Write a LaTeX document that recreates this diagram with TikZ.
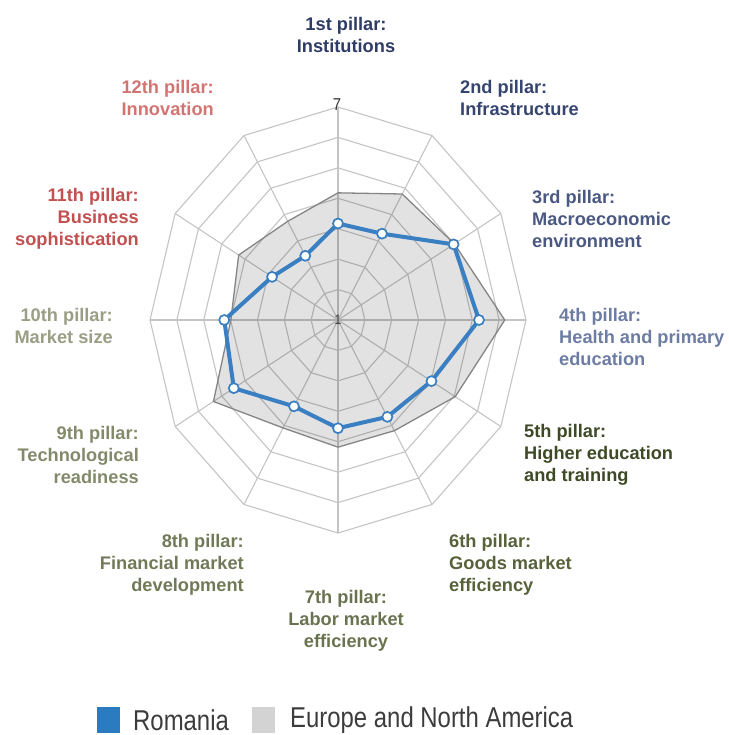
\documentclass[tikz,border=0pt]{standalone}
\usepackage{fontspec}
\setmainfont{Liberation Sans}
\usepackage{graphicx}
\definecolor{roblue}{HTML}{3A7FC1}
\definecolor{legblue}{HTML}{2A7BC0}
\definecolor{leggray}{HTML}{D3D3D3}
\definecolor{legtext}{HTML}{3C3C3C}
\definecolor{pA}{HTML}{2E3C66}
\definecolor{pB}{HTML}{36456F}
\definecolor{pC}{HTML}{4A5882}
\definecolor{pD}{HTML}{6D7CA3}
\definecolor{pE}{HTML}{3E4A26}
\definecolor{pF}{HTML}{57623B}
\definecolor{pG}{HTML}{6A7350}
\definecolor{pH}{HTML}{717A58}
\definecolor{pI}{HTML}{838A6A}
\definecolor{pJ}{HTML}{999E85}
\definecolor{pK}{HTML}{C25050}
\definecolor{pL}{HTML}{D27472}
\begin{document}
\begin{tikzpicture}[x=1bp,y=-1bp,
  gridline/.style={draw=black!23, line width=1.1bp},
  eupoly/.style={draw=black!48, line width=1.3bp, fill=black, fill opacity=0.115},
  roline/.style={draw=roblue, line width=4bp, line join=round},
  romark/.style={circle, draw=roblue, fill=white, line width=1.7bp, inner sep=0pt, minimum size=10bp},
  lab/.style={inner sep=0pt, font=\bfseries\fontsize{18.3}{22.3}\selectfont},
  legtxt/.style={inner sep=0pt, anchor=west, text=legtext, font=\fontsize{24}{28}\selectfont},
]
\useasboundingbox (0,0) rectangle (729,735);
\def\cx{338}\def\cy{320}\def\rx{188}\def\ry{213}
\coordinate (c) at (\cx,\cy);
% outer vertices
\foreach \i in {1,...,12}{
  \coordinate (o\i) at ({\cx+\rx*cos(90-30*(\i-1))},{\cy-\ry*sin(90-30*(\i-1))});
}
% rings
\foreach \k in {1,...,7}{
  \draw[gridline] ({\cx+\rx*\k/7*cos(90)},{\cy-\ry*\k/7*sin(90)})
    \foreach \a in {60,30,...,-240}{ -- ({\cx+\rx*\k/7*cos(\a)},{\cy-\ry*\k/7*sin(\a)}) } -- cycle;
}
% spokes
\foreach \i in {1,...,12}{ \draw[gridline] (c) -- (o\i); }
% data coordinates
\foreach \i/\f in {1/0.597,2/0.683,3/0.715,4/0.887,5/0.72,6/0.6,7/0.597,8/0.585,9/0.765,10/0.57,11/0.61,12/0.535}{
  \coordinate (e\i) at ({\cx+\rx*\f*cos(90-30*(\i-1))},{\cy-\ry*\f*sin(90-30*(\i-1))});
}
\foreach \i/\f in {1/0.453,2/0.468,3/0.71,4/0.75,5/0.574,6/0.525,7/0.508,8/0.468,9/0.64,10/0.605,11/0.405,12/0.348}{
  \coordinate (r\i) at ({\cx+\rx*\f*cos(90-30*(\i-1))},{\cy-\ry*\f*sin(90-30*(\i-1))});
}
% Europe and North America
\draw[eupoly] (e1) -- (e2) -- (e3) -- (e4) -- (e5) -- (e6) -- (e7) -- (e8) -- (e9) -- (e10) -- (e11) -- (e12) -- cycle;
% Romania
\draw[roline] (r1) -- (r2) -- (r3) -- (r4) -- (r5) -- (r6) -- (r7) -- (r8) -- (r9) -- (r10) -- (r11) -- (r12) -- cycle;
\foreach \i in {1,...,12}{ \node[romark] (m\i) at (r\i) {}; }
% scale labels
\node[inner sep=0pt, text=black!80, font=\fontsize{15}{15}\selectfont] (s7) at (337,105) {\scalebox{1}[1.15]{7}};
\node[inner sep=0pt, text=black!75, font=\fontsize{12}{12}\selectfont] (s1) at (338,320) {\scalebox{1}[1.15]{1}};
% pillar labels
\node[lab, text=pA, align=center] (l1) at (346,35) {1st pillar:\\Institutions};
\node[lab, text=pB, align=left, anchor=west] (l2) at (460,98) {2nd pillar:\\Infrastructure};
\node[lab, text=pC, align=left, anchor=west] (l3) at (532,219) {3rd pillar:\\Macroeconomic\\environment};
\node[lab, text=pD, align=left, anchor=west] (l4) at (559,337) {4th pillar:\\Health and primary\\education};
\node[lab, text=pE, align=left, anchor=west] (l5) at (524,455) {5th pillar:\\Higher education\\and training};
\node[lab, text=pF, align=left, anchor=west] (l6) at (449,565) {6th pillar:\\Goods market\\efficiency};
\node[lab, text=pG, align=center] (l7) at (346,621) {7th pillar:\\Labor market\\efficiency};
\node[lab, text=pH, align=right, anchor=east] (l8) at (244,565) {8th pillar:\\Financial market\\development};
\node[lab, text=pI, align=right, anchor=east] (l9) at (139,455) {9th pillar:\\Technological\\readiness};
\node[lab, text=pJ, align=right, anchor=east] (l10) at (113,326) {10th pillar:\\Market size};
\node[lab, text=pK, align=right, anchor=east] (l11) at (139,219) {11th pillar:\\Business\\sophistication};
\node[lab, text=pL, align=right, anchor=east] (l12) at (214,98) {12th pillar:\\Innovation};
% legend
\node[fill=legblue, minimum width=23bp, minimum height=26bp, inner sep=0pt] (k1) at (108.5,720) {};
\node[legtxt] (t1) at (133,720) {\scalebox{1}[1.2]{Romania}};
\node[fill=leggray, minimum width=23bp, minimum height=26bp, inner sep=0pt] (k2) at (263.5,720) {};
\node[legtxt] (t2) at (290,720) {\scalebox{1}[1.2]{Europe and North America}};
\end{tikzpicture}
\end{document}
